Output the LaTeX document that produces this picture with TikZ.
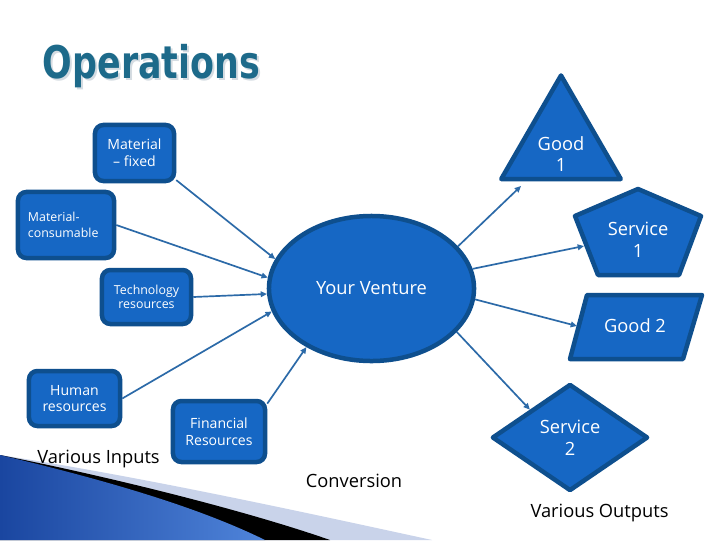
\documentclass[tikz,border=0pt]{standalone}
\usepackage{fontspec}
\setmainfont{Open Sans}
\newfontfamily\titlefont{DejaVu Sans}
\usetikzlibrary{arrows.meta, positioning, calc, shapes.geometric}
\definecolor{cfill}{HTML}{1667C4}
\definecolor{cedge}{HTML}{0E4F8E}
\definecolor{carrow}{HTML}{2C6AA8}
\definecolor{ctitle}{HTML}{1D6A8A}
\definecolor{cshadow}{HTML}{D5DCE2}
\definecolor{cstripe}{HTML}{C9D3EA}
\definecolor{cdeep}{HTML}{1A46A0}
\definecolor{clight}{HTML}{4F84DA}

\begin{document}
\begin{tikzpicture}[x=0.025cm, y=-0.025cm,
  inbox/.style={draw=cedge, fill=cfill, line width=3.2pt, rounded corners=6pt,
    text=white, align=center, inner sep=0pt},
  outshape/.style={draw=cedge, fill=cfill, line width=3.2pt, line join=round},
  outtext/.style={text=white, align=center, font=\fontsize{13}{15.5}\selectfont},
  flow/.style={draw=carrow, line width=1.2pt, -{Triangle[length=4.5pt,width=4pt]}},
  note/.style={font=\fontsize{13}{15}\selectfont, anchor=base}]
  \useasboundingbox (0,0) rectangle (720,540);
  \fill[white] (0,0) rectangle (720,540);

  % swoosh in the lower left corner
  \fill[cstripe] (0,455) .. controls (150,478) and (330,518) .. (432,540) -- (0,540) -- cycle;
  \fill[black] (0,455) .. controls (120,479) and (250,512) .. (330,540) -- (0,540) -- cycle;
  \shade[left color=cdeep, right color=clight]
    (0,455) .. controls (110,481) and (200,508) .. (265,540) -- (0,540) -- cycle;

  % title
  \node[anchor=base, text=cshadow, font=\titlefont\fontsize{32}{36}\selectfont\bfseries]
    (titleshadow) at (153.5,80) {\scalebox{0.775}[1]{Operations}};
  \node[anchor=base, text=ctitle, font=\titlefont\fontsize{32}{36}\selectfont\bfseries]
    (title) at (151.5,78) {\scalebox{0.775}[1]{Operations}};

  % inputs
  \node[inbox, minimum width=1.975cm, minimum height=1.4cm, font=\fontsize{10}{12}\selectfont]
    (matfix) at (134.5,153) {Material\\– fixed};
  \node[inbox, minimum width=2.4cm, minimum height=1.65cm, text width=1.9cm, align=left,
    font=\fontsize{8.8}{11.5}\selectfont] (matcons) at (66,225) {Material-\\consumable};
  \node[inbox, minimum width=2.225cm, minimum height=1.35cm, font=\fontsize{8.8}{10}\selectfont]
    (tech) at (146.5,297) {Technology\\resources};
  \node[inbox, minimum width=2.275cm, minimum height=1.375cm, font=\fontsize{10}{12}\selectfont]
    (human) at (74.5,398.5) {Human\\resources};
  \node[inbox, minimum width=2.3cm, minimum height=1.525cm, font=\fontsize{10}{12}\selectfont]
    (fin) at (219,431.5) {Financial\\Resources};

  % conversion
  \node[outshape, ellipse, minimum width=5.125cm, minimum height=3.625cm, inner sep=0pt, outtext]
    (venture) at (371.5,288.5) {Your Venture};

  % outputs
  \node[outshape, regular polygon, regular polygon sides=3, minimum size=3.45cm, inner sep=0pt]
    (good1) at (561,144.5) {};
  \node[outtext] (good1label) at (561,154) {Good\\1};
  \draw[outshape] (638,189) -- (701,216) -- (679,275) -- (598,275) -- (575,216) -- cycle;
  \node[outtext] (service1) at (638,240) {Service\\1};
  \draw[outshape] (587,295) -- (702,295) -- (683,359) -- (570,359) -- cycle;
  \node[outtext] (good2) at (635,326) {Good 2};
  \node[outshape, diamond, aspect=1.46, minimum width=3.9cm, minimum height=2.675cm, inner sep=0pt, outtext]
    (service2) at (570,437.5) {Service\\2};

  \coordinate (g1in) at (521,186);
  \coordinate (s1in) at (584,246);
  \coordinate (g2in) at (577,326);

  % arrows
  \draw[flow] (matfix.-33) -- (venture.163);
  \draw[flow] (matcons.east) -- (venture.174);
  \draw[flow] (tech.east) -- (venture.183);
  \draw[flow] (human.east) -- (venture.193);
  \draw[flow] (fin.30) -- (venture.222);
  \draw[flow] (venture.26) -- (g1in);
  \draw[flow] (venture.11) -- (s1in);
  \draw[flow] (venture.-6) -- (g2in);
  \draw[flow] (venture.-27) -- (service2.north west);

  % captions
  \node[note] (inputs) at (98.5,463) {Various Inputs};
  \node[note] (conversion) at (354,487) {Conversion};
  \node[note] (outputs) at (599.5,517) {Various Outputs};
\end{tikzpicture}
\end{document}
